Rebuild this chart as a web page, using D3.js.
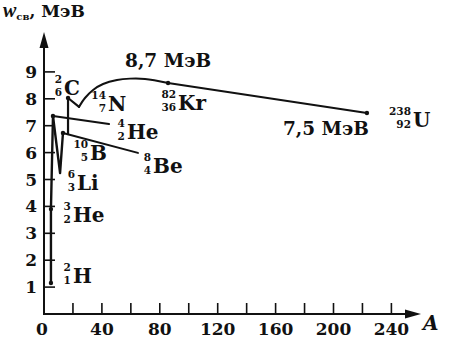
<!DOCTYPE html>
<html>
<head>
<meta charset="utf-8">
<script src="https://cdn.jsdelivr.net/npm/d3@7"></script>
<style>
  html, body { margin: 0; padding: 0; background: #fff; }
  svg { display: block; }
  text { font-family: "DejaVu Serif", "Liberation Serif", serif; font-weight: bold; fill: #111; }
</style>
</head>
<body>
<svg id="chart" width="450" height="349"></svg>
<script>
// Binding energy per nucleon, w (MeV), against mass number A.
// Light-nuclei rise: 2H -> 3He -> 4He
const risePoints = [[4.8, 1.15], [4.8, 3.9], [6.2, 7.36]];
// Zigzag 4He -> 6Li -> 10B
const zigzagPoints = [[6.2, 7.36], [11.1, 5.24], [13.1, 6.73]];
// Step up to 12C and down to 14N
const carbonPoints = [[16.6, 6.69], [16.6, 8.03], [24.2, 7.70]];
// Rounded hump from 14N to 82Kr
const humpPoints = [[24.2, 7.70], [28.3, 8.03], [33.9, 8.33], [40.8, 8.55], [50.4, 8.70],
                    [59.4, 8.75], [69.8, 8.74], [85.7, 8.59]];
// Slow decline from 82Kr to 238U
const tailPoints = [[85.7, 8.59], [223.1, 7.47]];
// Pointer lines to the 4He and 8Be labels
const heliumPointer = [[6.2, 7.36], [44.9, 7.06]];
const berylliumPointer = [[13.1, 6.73], [64.9, 5.99]];
// Marked nuclei
const dotPoints = [[4.8, 1.15], [4.8, 3.9], [6.2, 7.36], [13.1, 6.73], [16.6, 8.03], [85.7, 8.59], [223.1, 7.47]];

// Nuclide labels: mass number, charge number, symbol, anchor (A, w)
const nuclides = [
  { mass: "2",   charge: "1",  sym: "H",  at: [19.3, 1.15] },
  { mass: "3",   charge: "2",  sym: "He", at: [19.3, 3.42] },
  { mass: "6",   charge: "3",  sym: "Li", at: [22.1, 4.61] },
  { mass: "10",  charge: "5",  sym: "B",  at: [31.1, 5.72] },
  { mass: "8",   charge: "4",  sym: "Be", at: [74.6, 5.24] },
  { mass: "4",   charge: "2",  sym: "He", at: [56.6, 6.50] },
  { mass: "2",   charge: "6",  sym: "C",  at: [13.1, 8.14] },
  { mass: "14",  charge: "7",  sym: "N",  at: [43.5, 7.53] },
  { mass: "82",  charge: "36", sym: "Kr", at: [91.9, 7.58] },
  { mass: "238", charge: "92", sym: "U",  at: [254.2, 6.95] }
];
// Energy annotations
const notes = [
  { text: "8,7 МэВ", at: [56.0, 9.18] },
  { text: "7,5 МэВ", at: [165.1, 6.65] }
];

const xTicks = [20, 40, 60, 80, 100, 120, 140, 160, 180, 200, 220, 240];
const xLabels = [0, 40, 80, 120, 160, 200, 240];
const yTicks = [1, 2, 3, 4, 5, 6, 7, 8, 9];

const svg = d3.select("#chart");
const x = d3.scaleLinear().domain([0, 240]).range([44, 391.4]);
const y = d3.scaleLinear().domain([0, 9]).range([314, 71.9]);
const x0 = x(0), y0 = y(0);

// Axes with arrows
const axes = svg.append("g").attr("stroke", "#111").attr("fill", "none");
axes.append("line").attr("x1", x0).attr("y1", y0 + 1).attr("x2", x0).attr("y2", 40).attr("stroke-width", 2);
axes.append("line").attr("x1", x0 - 1).attr("y1", y0).attr("x2", 412).attr("y2", y0).attr("stroke-width", 2);
svg.append("path").attr("d", `M${x0},32 L${x0 - 4.5},48 L${x0 + 4.5},48 Z`).attr("fill", "#111");
svg.append("path").attr("d", `M421,${y0} L405,${y0 - 4.5} L405,${y0 + 4.5} Z`).attr("fill", "#111");

// Inward ticks
axes.selectAll(".xt").data(xTicks).join("line")
  .attr("x1", d => x(d)).attr("x2", d => x(d)).attr("y1", y0).attr("y2", y0 - 11).attr("stroke-width", 1.6);
axes.selectAll(".yt").data(yTicks).join("line")
  .attr("x1", x0).attr("x2", x0 + 11).attr("y1", d => y(d)).attr("y2", d => y(d)).attr("stroke-width", 1.6);

// Tick labels
svg.selectAll(".xl").data(xLabels).join("text")
  .attr("x", d => d === 0 ? x(d) - 2 : x(d)).attr("y", y0 + 21).attr("text-anchor", "middle")
  .attr("font-size", 17).text(d => d);
svg.selectAll(".yl").data(yTicks).join("text")
  .attr("x", x0 - 7).attr("y", d => y(d) + 6).attr("text-anchor", "end")
  .attr("font-size", 17).text(d => d);

// Axis titles
const yTitle = svg.append("text").attr("x", 3).attr("y", 17).attr("font-size", 17);
yTitle.append("tspan").attr("font-style", "italic").attr("font-family", "Liberation Serif").attr("font-size", 20).text("w");
yTitle.append("tspan").attr("font-size", 10).attr("dy", 3).text("св");
yTitle.append("tspan").attr("dy", -3).text(",  МэВ");
svg.append("text").attr("x", 423).attr("y", 330).attr("font-size", 20)
  .attr("font-style", "italic").attr("font-family", "Liberation Serif").text("A");

// Curve
const line = d3.line().x(d => x(d[0])).y(d => y(d[1]));
const curve = d3.line().x(d => x(d[0])).y(d => y(d[1])).curve(d3.curveCatmullRom.alpha(0.5));
const marks = svg.append("g").attr("fill", "none").attr("stroke", "#111")
  .attr("stroke-linejoin", "round").attr("stroke-linecap", "round");
marks.append("path").attr("d", line(risePoints)).attr("stroke-width", 2.4);
marks.append("path").attr("d", line(zigzagPoints)).attr("stroke-width", 2.4);
marks.append("path").attr("d", line(carbonPoints)).attr("stroke-width", 2.2);
marks.append("path").attr("d", curve(humpPoints)).attr("stroke-width", 2);
marks.append("path").attr("d", line(tailPoints)).attr("stroke-width", 2);
marks.append("path").attr("d", line(heliumPointer)).attr("stroke-width", 2);
marks.append("path").attr("d", line(berylliumPointer)).attr("stroke-width", 2);
svg.append("g").selectAll("circle").data(dotPoints).join("circle")
  .attr("cx", d => x(d[0])).attr("cy", d => y(d[1])).attr("r", 2.2).attr("fill", "#111");

// Nuclide labels: element symbol with mass number above and charge number below
const lab = svg.append("g").selectAll("g").data(nuclides).join("g")
  .attr("transform", d => `translate(${x(d.at[0])},${y(d.at[1])})`);
lab.append("text").attr("x", -1).attr("y", -12).attr("text-anchor", "end").attr("font-size", 10.5).text(d => d.mass);
lab.append("text").attr("x", -1).attr("y", 1).attr("text-anchor", "end").attr("font-size", 10.5).text(d => d.charge);
lab.append("text").attr("x", 1).attr("y", 0).attr("font-size", 20).text(d => d.sym);

svg.append("g").selectAll("text").data(notes).join("text")
  .attr("x", d => x(d.at[0])).attr("y", d => y(d.at[1])).attr("font-size", 18.5).text(d => d.text);
</script>
</body>
</html>
